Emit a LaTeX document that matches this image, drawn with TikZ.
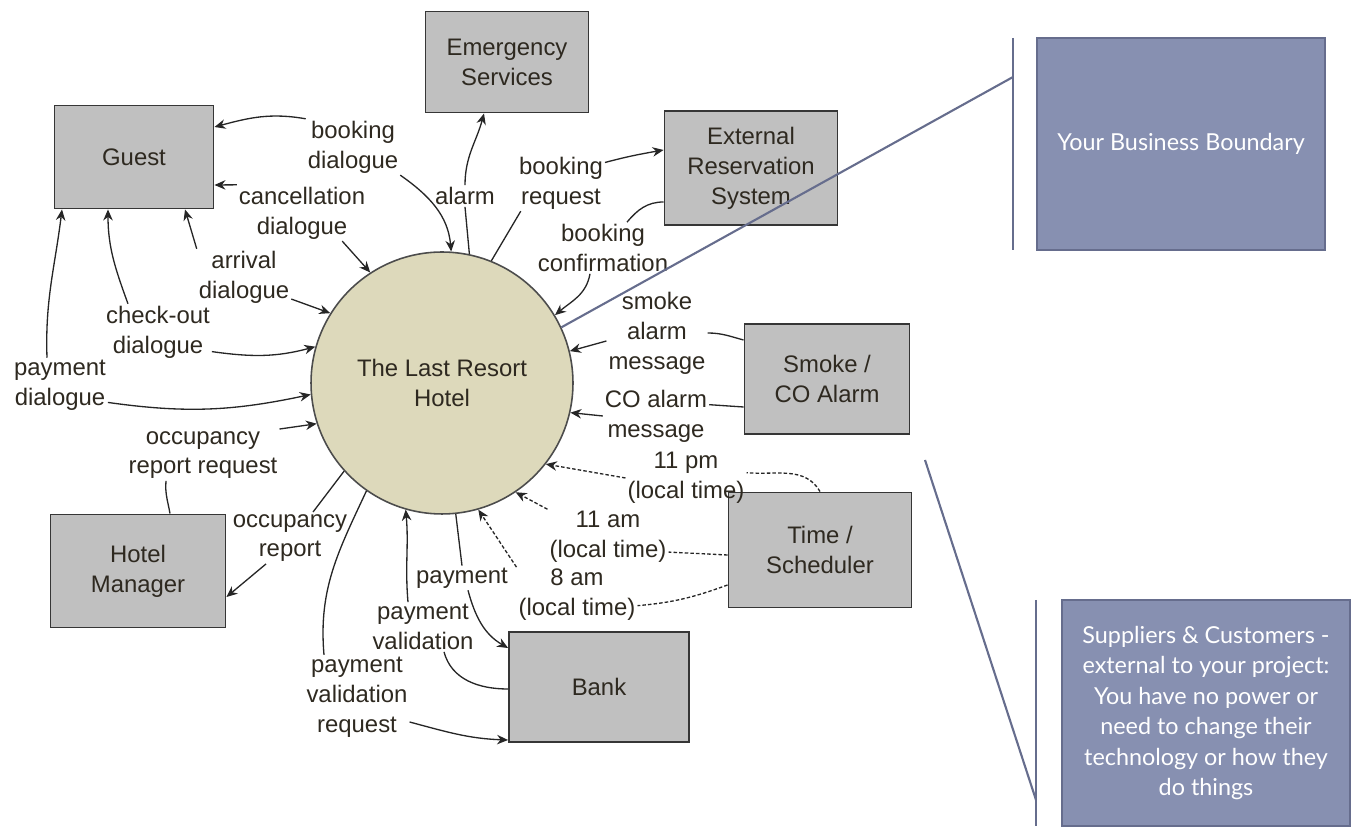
\documentclass[tikz,border=0pt]{standalone}
\usepackage{fontspec}
\setmainfont{Liberation Sans}
\newfontfamily\notefont{Lato}
\usetikzlibrary{arrows.meta, calc}

\definecolor{boxgray}{HTML}{C0C0C0}
\definecolor{boxline}{HTML}{363636}
\definecolor{hotelfill}{HTML}{DDD9BB}
\definecolor{lbltext}{HTML}{2E2920}
\definecolor{notefill}{HTML}{8790B1}
\definecolor{noteline}{HTML}{666D8D}

\begin{document}
\begin{tikzpicture}[x=0.02cm, y=0.02cm, >={Stealth[length=2.2mm, width=1.9mm]},
  every node/.style={font=\fontsize{13.6}{17}\selectfont, text=lbltext},
  entity/.style={draw=boxline, line width=1.1pt, fill=boxgray, align=center},
  lbl/.style={align=center, inner sep=1pt},
  flow/.style={draw=black!85, line width=0.75pt},
  timer/.style={flow, dash pattern=on 2pt off 1.2pt},
  note/.style={draw=noteline, line width=1pt, fill=notefill, align=center, text=white, font=\notefont\fontsize{13.3}{17.3}\selectfont},
  rule/.style={draw=noteline, line width=1.2pt}]
  \useasboundingbox (0,0) rectangle (1352,828);

  % process
  \node[circle, draw=black!70, line width=0.9pt, fill=hotelfill, minimum size=5.24cm, align=center] (hotel) at (442,445) {The Last Resort\\Hotel};

  % external entities
  \node[entity, minimum width=3.18cm, minimum height=2.06cm] (guest) at (134,671) {Guest};
  \node[entity, minimum width=3.26cm, minimum height=2.02cm] (emerg) at (507,766) {Emergency\\Services};
  \node[entity, minimum width=3.46cm, minimum height=2.28cm] (extres) at (751,660) {External\\Reservation\\System};
  \node[entity, minimum width=3.30cm, minimum height=2.20cm] (smoke) at (827,449) {Smoke /\\CO Alarm};
  \node[entity, minimum width=3.66cm, minimum height=2.30cm] (sched) at (820,278) {Time /\\Scheduler};
  \node[entity, minimum width=3.50cm, minimum height=2.26cm] (hmgr) at (138,257) {Hotel\\Manager};
  \node[entity, minimum width=3.60cm, minimum height=2.20cm] (bank) at (599,141) {Bank};

  % flow labels
  \node[lbl] (bkdlg) at (353,681) {booking\\dialogue};
  \node[lbl] (cncdlg) at (302,615) {cancellation\\dialogue};
  \node[lbl] (arrdlg) at (244,551) {arrival\\dialogue};
  \node[lbl] (chkdlg) at (158,496) {check-out\\dialogue};
  \node[lbl] (paydlg) at (60,443) {payment\\dialogue};
  \node[lbl] (alarm) at (465,632) {alarm};
  \node[lbl] (bkreq) at (561,645) {booking\\request};
  \node[lbl] (bkconf) at (603,580) {booking\\confirmation};
  \node[lbl] (smokemsg) at (657,495) {smoke\\alarm\\message};
  \node[lbl] (comsg) at (656,412) {CO alarm\\message};
  \node[lbl] (pm11) at (686,350) {11 pm\\(local time)};
  \node[lbl] (am11) at (608,291) {11 am\\(local time)};
  \node[lbl] (am8) at (577,233) {8 am\\(local time)};
  \node[lbl] (occreq) at (203,373) {occupancy\\report request};
  \node[lbl] (occrep) at (290,290) {occupancy\\report};
  \node[lbl] (paylbl) at (462,250) {payment};
  \node[lbl] (payval) at (423,201) {payment\\validation};
  \node[lbl] (payvalreq) at (357,131) {payment\\validation\\request};

  % guest flows
  \draw[flow, ->] (bkdlg.north west) to[out=170, in=15] ($(guest.east)+(0,30)$);
  \draw[flow, ->] (bkdlg.south east) to[out=-35, in=95] (hotel.86);
  \draw[flow, ->] (cncdlg.north west) -- ($(guest.east)+(0,-28)$);
  \draw[flow, ->] (cncdlg.-35) -- (hotel.123);
  \draw[flow, ->] (arrdlg.north west) -- ($(guest.south)+(51,0)$);
  \draw[flow, ->] (arrdlg.-25) -- (hotel.148);
  \draw[flow, ->] ($(chkdlg.north)+(-30,0)$) to[out=110, in=-90] ($(guest.south)+(-26,0)$);
  \draw[flow, ->] (chkdlg.-20) to[out=-8, in=195] (hotel.164);
  \draw[flow, ->] ($(paydlg.north)+(-13,0)$) to[out=92, in=-97] ($(guest.south)+(-72,0)$);
  \draw[flow, ->] (paydlg.-20) to[out=-8, in=192] (hotel.185);

  % emergency and reservations
  \draw[flow] (hotel.78) -- (alarm.south);
  \draw[flow, ->] (alarm.north) to[out=90, in=-105] ($(emerg.south)+(-23,0)$);
  \draw[flow] (hotel.68) -- (bkreq.-145);
  \draw[flow, ->] (bkreq.25) to[out=15, in=190] ($(extres.west)+(0,18)$);
  \draw[flow] ($(extres.west)+(0,-34)$) to[out=180, in=50] ($(bkconf.north)+(24,0)$);
  \draw[flow, ->] ($(bkconf.south)+(-13,0)$) to[out=-100, in=40] (hotel.31);

  % alarms
  \draw[flow] ($(smoke.west)+(0,39)$) to[out=165, in=0] (smokemsg.east);
  \draw[flow, ->] ($(smokemsg.west)+(0,-8)$) -- (hotel.14);
  \draw[flow] ($(smoke.west)+(0,-28)$) -- (comsg.12);
  \draw[flow, ->] (comsg.west) -- (hotel.347);

  % scheduler
  \draw[timer] (sched.north) to[out=120, in=-5] (pm11.5);
  \draw[timer, ->] (pm11.west) -- (hotel.322);
  \draw[timer] ($(sched.west)+(0,-5)$) -- (am11.-14);
  \draw[timer, ->] (am11.north west) -- (hotel.304);
  \draw[timer] ($(sched.west)+(0,-35)$) to[out=200, in=5] (am8.-10);
  \draw[timer, ->] (am8.north west) -- (hotel.286);

  % manager
  \draw[flow] ($(hmgr.north)+(32,0)$) to[out=100, in=-95] ($(occreq.south)+(-37,0)$);
  \draw[flow, ->] (occreq.north east) -- (hotel.198);
  \draw[flow] (hotel.222) -- ($(occrep.north)+(23,0)$);
  \draw[flow, ->] ($(occrep.south)+(-24,0)$) -- ($(hmgr.east)+(0,-26)$);

  % bank
  \draw[flow] (hotel.276) -- (paylbl.north);
  \draw[flow, ->] ($(paylbl.south)+(6,0)$) to[out=-75, in=150] ($(bank.west)+(0,39)$);
  \draw[flow] ($(bank.west)+(0,-2)$) to[out=180, in=-75] ($(payval.south)+(21,0)$);
  \draw[flow, ->] ($(payval.north)+(-15,0)$) to[out=95, in=-85] (hotel.254);
  \draw[flow] (hotel.235) to[out=-115, in=95] ($(payvalreq.north)+(-33,0)$);
  \draw[flow, ->] ($(payvalreq.east)+(0,-25)$) to[out=-15, in=178] ($(bank.west)+(0,-53)$);

  % callouts
  \node[note, minimum width=5.76cm, minimum height=4.24cm] (bizbox) at (1181,684) {Your Business Boundary};
  \node[note, minimum width=5.76cm, minimum height=4.52cm] (supbox) at (1206,115) {Suppliers \& Customers -\\external to your project:\\You have no power or\\need to change their\\technology or how they\\do things};
  \coordinate (bizTop) at (1013,790);
  \coordinate (bizBot) at (1013,578);
  \coordinate (bizTip) at (1013,751);
  \coordinate (supTop) at (1036,228);
  \coordinate (supBot) at (1036,2);
  \coordinate (supStart) at (925,368);
  \coordinate (supTip) at (1036,28);
  \draw[rule] (bizTop) -- (bizBot);
  \draw[rule] (hotel.25) -- (bizTip);
  \draw[rule] (supTop) -- (supBot);
  \draw[rule] (supStart) -- (supTip);
\end{tikzpicture}
\end{document}
